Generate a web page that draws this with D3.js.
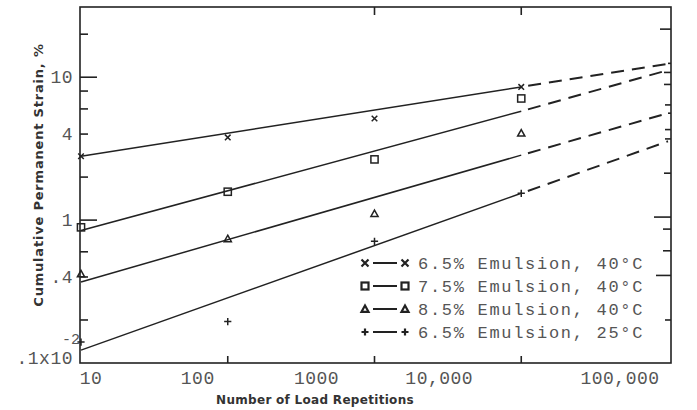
<!DOCTYPE html>
<html lang="en">
<head>
    <meta charset="UTF-8">
    <title>Cumulative Permanent Strain</title>
    <script src="https://d3js.org/d3.v7.min.js"></script>
    <style>
        body { margin: 0; background: #fff; }
        svg { display: block; }
    </style>
</head>
<body>
    <svg id="chart" width="697" height="410"></svg>
    <script>
        // measured values
        const loads = [10, 100, 1000, 10000];
        const strain65at40 = [2.8, 3.79, 5.14, 8.55];
        const strain75at40 = [0.89, 1.58, 2.66, 7.1];
        const strain85at40 = [0.42, 0.74, 1.11, 4.06];
        const strain65at25 = [0.14, 0.195, 0.71, 1.54];

        // fitted lines: solid up to 10,000, dashed beyond
        const fitLoads = [10, 10000, 100000];
        const fit65at40 = [2.8, 8.55, 12.4];
        const fit75at40 = [0.845, 5.78, 11.2];
        const fit85at40 = [0.369, 2.85, 5.6];
        const fit65at25 = [0.123, 1.54, 3.56];

        const seriesNames = ["6.5% Emulsion, 40°C", "7.5% Emulsion, 40°C", "8.5% Emulsion, 40°C", "6.5% Emulsion, 25°C"];
        const seriesSymbols = ["x", "square", "triangle", "plus"];

        const xTickValues = [10, 100, 1000, 10000, 100000];
        const xTickLabels = ["10", "100", "1000", "10,000", "100,000"];
        const yLabelValues = [10, 4, 1, 0.4, 0.1];
        const yLabelTexts = ["10", "4", "1", ".4", ".1x10"];
        const yLeftTicks = [20, 10, 8, 6, 4, 2, 1, 0.6, 0.4, 0.2];
        const yRightTicks = [21.7, 12.5, 10.8, 8.9, 6.4, 5.6, 4.3, 3.7, 2.13, 1.05, 0.865, 0.61, 0.41, 0.2];

        const svg = d3.select("#chart");
        const ink = "#222";
        const grey = "#555";

        const plot = { left: 80, right: 671, top: 7, bottom: 363 };
        const x = d3.scaleLog().domain([10, 100000]).range([81, 668]);
        const y = d3.scaleLog().domain([0.1, 31]).range([plot.bottom, plot.top]);

        // frame
        svg.append("rect")
            .attr("x", plot.left).attr("y", plot.top)
            .attr("width", plot.right - plot.left).attr("height", plot.bottom - plot.top)
            .attr("fill", "none").attr("stroke", ink).attr("stroke-width", 1.6);

        // left ticks (inward)
        svg.append("g").selectAll("line").data(yLeftTicks).join("line")
            .attr("x1", plot.left).attr("x2", d => plot.left + (d === 10 || d === 1 ? 17 : 8))
            .attr("y1", d => y(d)).attr("y2", d => y(d))
            .attr("stroke", ink).attr("stroke-width", 1.6);

        // right ticks (inward)
        const rightLen = [11, 3, 7, 7, 6, 3, 6, 6, 7, 17, 8, 8, 15, 6];
        svg.append("g").selectAll("line").data(yRightTicks).join("line")
            .attr("x1", plot.right).attr("x2", (d, i) => plot.right - rightLen[i])
            .attr("y1", d => y(d)).attr("y2", d => y(d))
            .attr("stroke", ink).attr("stroke-width", 1.6);

        // bottom and top ticks
        const innerX = [100, 1000, 10000];
        svg.append("g").selectAll("line").data(innerX).join("line")
            .attr("x1", d => x(d)).attr("x2", d => x(d))
            .attr("y1", plot.bottom).attr("y2", plot.bottom - 7)
            .attr("stroke", ink).attr("stroke-width", 1.6);
        svg.append("g").selectAll("line").data([1000, 10000]).join("line")
            .attr("x1", d => x(d)).attr("x2", d => x(d))
            .attr("y1", plot.top).attr("y2", plot.top + 8)
            .attr("stroke", ink).attr("stroke-width", 1.6);

        // x tick labels (typed a bit off the ticks in the original)
        const xLabelShift = [10, -30, -58, -82, -48];
        svg.append("g").selectAll("text").data(xTickValues).join("text")
            .attr("x", (d, i) => x(d) + xLabelShift[i])
            .attr("y", 384)
            .attr("text-anchor", "middle")
            .attr("font-family", "Liberation Mono, monospace")
            .attr("font-size", 18).attr("letter-spacing", 0.5)
            .attr("fill", grey)
            .text((d, i) => xTickLabels[i]);

        // y tick labels
        svg.append("g").selectAll("text").data(yLabelValues).join("text")
            .attr("x", 73)
            .attr("y", d => y(d) + (d === 0.1 ? 1 : 6))
            .attr("text-anchor", "end")
            .attr("font-family", "Liberation Mono, monospace")
            .attr("font-size", 18).attr("letter-spacing", 0.5)
            .attr("fill", grey)
            .text((d, i) => yLabelTexts[i]);
        svg.append("text")
            .attr("x", 62).attr("y", y(0.1) - 19)
            .attr("font-family", "Liberation Mono, monospace")
            .attr("font-size", 15).attr("fill", grey)
            .text("-2");

        // axis titles
        svg.append("text")
            .attr("x", 315).attr("y", 404)
            .attr("text-anchor", "middle")
            .attr("font-family", "DejaVu Sans, sans-serif")
            .attr("font-weight", "bold").attr("font-size", 12)
            .attr("letter-spacing", 0.3)
            .attr("fill", "#333")
            .text("Number of Load Repetitions");
        svg.append("text")
            .attr("transform", "translate(43,175) rotate(-90)")
            .attr("text-anchor", "middle")
            .attr("font-family", "DejaVu Sans, sans-serif")
            .attr("font-weight", "bold").attr("font-size", 13)
            .attr("letter-spacing", 0.8)
            .attr("fill", "#333")
            .text("Cumulative Permanent Strain, %");

        // fitted lines
        const fits = [fit65at40, fit75at40, fit85at40, fit65at25];
        const line = d3.line().x(d => x(d[0])).y(d => y(d[1]));
        fits.forEach(f => {
            const pts = fitLoads.map((n, i) => [n, f[i]]);
            svg.append("path").datum(pts.slice(0, 2))
                .attr("d", line).attr("fill", "none")
                .attr("stroke", ink).attr("stroke-width", 1.5);
            svg.append("path").datum(pts.slice(1))
                .attr("d", line).attr("fill", "none")
                .attr("stroke", ink).attr("stroke-width", 2)
                .attr("stroke-dasharray", "13,8").attr("stroke-dashoffset", 14);
        });

        // markers
        function drawSymbol(g, kind, cx, cy, s, w) {
            const sw = w || 1.5;
            if (kind === "x") {
                g.append("path")
                    .attr("d", `M${cx - s},${cy - s}L${cx + s},${cy + s}M${cx - s},${cy + s}L${cx + s},${cy - s}`)
                    .attr("stroke", ink).attr("stroke-width", sw).attr("fill", "none");
            } else if (kind === "square") {
                g.append("rect")
                    .attr("x", cx - s).attr("y", cy - s).attr("width", 2 * s).attr("height", 2 * s)
                    .attr("stroke", ink).attr("stroke-width", sw).attr("fill", "none");
            } else if (kind === "triangle") {
                g.append("path")
                    .attr("d", `M${cx},${cy - s}L${cx + s},${cy + s * 0.8}L${cx - s},${cy + s * 0.8}Z`)
                    .attr("stroke", ink).attr("stroke-width", sw).attr("fill", "none");
            } else {
                g.append("path")
                    .attr("d", `M${cx - s},${cy}L${cx + s},${cy}M${cx},${cy - s}L${cx},${cy + s}`)
                    .attr("stroke", ink).attr("stroke-width", sw).attr("fill", "none");
            }
        }

        const allSeries = [strain65at40, strain75at40, strain85at40, strain65at25];
        const markG = svg.append("g");
        allSeries.forEach((vals, si) => {
            vals.forEach((v, i) => {
                drawSymbol(markG, seriesSymbols[si], x(loads[i]), y(v), si === 0 ? 2.8 : 3.6);
            });
        });

        // legend
        const legend = svg.append("g");
        seriesNames.forEach((name, i) => {
            const cy = 263 + i * 23;
            drawSymbol(legend, seriesSymbols[i], 365, cy, 3.5, 2.2);
            legend.append("line")
                .attr("x1", 373).attr("x2", 397).attr("y1", cy).attr("y2", cy)
                .attr("stroke", ink).attr("stroke-width", 2);
            drawSymbol(legend, seriesSymbols[i], 405, cy, 3.5, 2.2);
            legend.append("text")
                .attr("x", 418).attr("y", cy + 6)
                .attr("font-family", "Liberation Mono, monospace")
                .attr("font-size", 17).attr("letter-spacing", 1.7)
                .attr("fill", grey)
                .text(name);
        });
    </script>
</body>
</html>
